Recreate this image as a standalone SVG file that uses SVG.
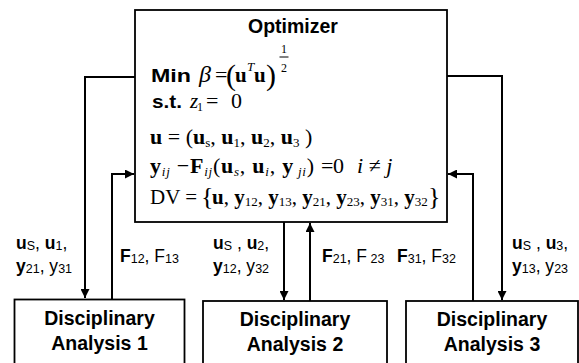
<svg xmlns="http://www.w3.org/2000/svg" width="579" height="363" viewBox="0 0 579 363">
<style>
.box{fill:#fff;stroke:#000;stroke-width:1.8}
.con{fill:none;stroke:#000;stroke-width:2}
.hd{font-family:"Liberation Sans",Arial,sans-serif;font-weight:bold;font-size:19.5px;fill:#000}
.lb{font-family:"Liberation Sans",Arial,sans-serif;font-size:17.5px;fill:#000}
.b{font-weight:bold}
.sb{font-size:12.5px}
.m{font-family:"Liberation Serif","Times New Roman",serif;fill:#000}
.it{font-style:italic}
.ms{font-size:13px}
</style>
<defs>
<marker id="ah" viewBox="0 0 10 10" refX="10" refY="5" markerWidth="10" markerHeight="9" markerUnits="userSpaceOnUse" orient="auto">
<path d="M0,0 L10,5 L0,10 z" fill="#000"/>
</marker>
</defs>

<g id="connectors">
<path class="con" d="M135,77 H85 V298" marker-end="url(#ah)"/>
<path class="con" d="M112,300 V174 H134" marker-end="url(#ah)"/>
<path class="con" d="M284,222 V300" marker-end="url(#ah)"/>
<path class="con" d="M310,301 V223" marker-end="url(#ah)"/>
<path class="con" d="M473,301 V174 H448" marker-end="url(#ah)"/>
<path class="con" d="M447,76 H502 V300" marker-end="url(#ah)"/>
</g>

<g id="optimizer">
<rect class="box" x="135" y="10" width="312" height="212"/>
<text class="hd" x="293" y="33" text-anchor="middle">Optimizer</text>
<text class="hd" x="151" y="82" style="font-size:18px" textLength="40" lengthAdjust="spacingAndGlyphs">Min</text>
<text class="m it" x="199" y="82" style="font-size:24px">β</text>
<text class="m" x="215" y="82" style="font-size:22px">=</text>
<text class="m" x="226" y="85" style="font-size:30px">(</text>
<text class="m b" x="235" y="82" style="font-size:21px">u</text>
<text class="m it" x="247" y="71" style="font-size:13px">T</text>
<text class="m b" x="254" y="82" style="font-size:21px">u</text>
<text class="m" x="266" y="85" style="font-size:30px">)</text>
<text class="m" x="281" y="53" style="font-size:12px">1</text>
<line x1="279.5" y1="57" x2="288.5" y2="57" stroke="#000" stroke-width="1"/>
<text class="m" x="281" y="72" style="font-size:12px">2</text>

<text class="hd" x="152" y="108" style="font-size:18px" textLength="30" lengthAdjust="spacingAndGlyphs">s.t.</text>
<text class="m it" x="190" y="108" style="font-size:21px">z</text>
<text class="m" x="197" y="111" style="font-size:12px">1</text>
<text class="m" x="206" y="108" style="font-size:22px">=</text>
<text class="m" x="231" y="108" style="font-size:22px">0</text>

<text class="m" x="150" y="144" style="font-size:22px"><tspan class="b">u</tspan> = (<tspan class="b">u</tspan><tspan class="ms" dy="3">s</tspan><tspan dy="-3">, </tspan><tspan class="b">u</tspan><tspan class="ms" dy="3">1</tspan><tspan dy="-3">, </tspan><tspan class="b">u</tspan><tspan class="ms" dy="3">2</tspan><tspan dy="-3">, </tspan><tspan class="b">u</tspan><tspan class="ms" dy="3">3</tspan><tspan dy="-3"> )</tspan></text>

<text class="m" x="150" y="173" style="font-size:22px" textLength="164" lengthAdjust="spacing"><tspan class="b">y</tspan><tspan class="ms it" dy="3">ij</tspan><tspan dy="-3"> −</tspan><tspan class="b">F</tspan><tspan class="ms it" dy="3">ij</tspan><tspan dy="-3">(</tspan><tspan class="b">u</tspan><tspan class="ms it" dy="3">s</tspan><tspan dy="-3">, </tspan><tspan class="b">u</tspan><tspan class="ms it" dy="3">i</tspan><tspan dy="-3">, </tspan><tspan class="b">y</tspan><tspan class="ms it" dy="3"> ji</tspan><tspan dy="-3">)</tspan></text>
<text class="m" x="321" y="173" style="font-size:22px">=<tspan x="333">0</tspan></text>
<text class="m" x="357" y="173" style="font-size:22px"><tspan class="it">i</tspan> ≠ <tspan class="it">j</tspan></text>

<text class="m" x="150" y="204" style="font-size:21px">DV =<tspan x="201" style="font-size:26px" dy="1">{</tspan><tspan x="212" dy="-1" class="b">u</tspan>, <tspan class="b">y</tspan><tspan class="ms" dy="2">12</tspan><tspan dy="-2">, </tspan><tspan class="b">y</tspan><tspan class="ms" dy="2">13</tspan><tspan dy="-2">, </tspan><tspan class="b">y</tspan><tspan class="ms" dy="2">21</tspan><tspan dy="-2">, </tspan><tspan class="b">y</tspan><tspan class="ms" dy="2">23</tspan><tspan dy="-2">, </tspan><tspan class="b">y</tspan><tspan class="ms" dy="2">31</tspan><tspan dy="-2">, </tspan><tspan class="b">y</tspan><tspan class="ms" dy="2">32</tspan><tspan dy="-1" x="428" style="font-size:26px">}</tspan></text>
</g>

<g id="da1">
<rect class="box" x="14.5" y="299.5" width="170" height="80"/>
<text class="hd" x="99.5" y="325" text-anchor="middle">Disciplinary</text>
<text class="hd" x="99.5" y="350" text-anchor="middle">Analysis 1</text>
</g>
<g id="da2">
<rect class="box" x="203" y="301" width="184" height="80"/>
<text class="hd" x="295" y="326" text-anchor="middle">Disciplinary</text>
<text class="hd" x="295" y="351" text-anchor="middle">Analysis 2</text>
</g>
<g id="da3">
<rect class="box" x="406" y="301" width="172" height="80"/>
<text class="hd" x="492" y="326" text-anchor="middle">Disciplinary</text>
<text class="hd" x="492" y="351" text-anchor="middle">Analysis 3</text>
</g>

<g id="labels">
<text class="lb" x="16" y="249"><tspan class="b">u</tspan><tspan class="sb" dy="1">S</tspan><tspan dy="-1">, </tspan><tspan class="b">u</tspan><tspan class="sb" dy="1">1</tspan><tspan dy="-1">,</tspan></text>
<text class="lb" x="16" y="272"><tspan class="b">y</tspan><tspan class="sb" dy="1">21</tspan><tspan dy="-1">, y</tspan><tspan class="sb" dy="1">31</tspan></text>
<text class="lb" x="120" y="262"><tspan class="b">F</tspan><tspan class="sb" dy="1">12</tspan><tspan dy="-1">, F</tspan><tspan class="sb" dy="1">13</tspan></text>
<text class="lb" x="213" y="249"><tspan class="b">u</tspan><tspan class="sb" dy="1">S</tspan><tspan dy="-1"> , </tspan><tspan class="b">u</tspan><tspan class="sb" dy="1">2</tspan><tspan dy="-1">,</tspan></text>
<text class="lb" x="213" y="272"><tspan class="b">y</tspan><tspan class="sb" dy="1">12</tspan><tspan dy="-1">, y</tspan><tspan class="sb" dy="1">32</tspan></text>
<text class="lb" x="322" y="262"><tspan class="b">F</tspan><tspan class="sb" dy="1">21</tspan><tspan dy="-1">, F</tspan><tspan class="sb" dy="1"> 23</tspan></text>
<text class="lb" x="397" y="262"><tspan class="b">F</tspan><tspan class="sb" dy="1">31</tspan><tspan dy="-1">, F</tspan><tspan class="sb" dy="1">32</tspan></text>
<text class="lb" x="512" y="249"><tspan class="b">u</tspan><tspan class="sb" dy="1">S</tspan><tspan dy="-1"> , </tspan><tspan class="b">u</tspan><tspan class="sb" dy="1">3</tspan><tspan dy="-1">,</tspan></text>
<text class="lb" x="512" y="272"><tspan class="b">y</tspan><tspan class="sb" dy="1">13</tspan><tspan dy="-1">, y</tspan><tspan class="sb" dy="1">23</tspan></text>
</g>
</svg>
